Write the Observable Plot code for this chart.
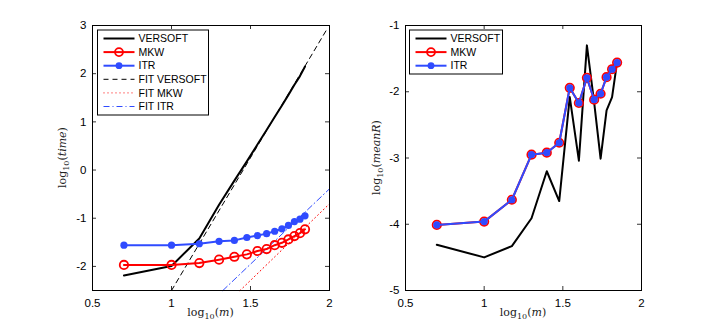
<!DOCTYPE html>
<html>
<head>
<meta charset="utf-8">
<script src="https://cdn.jsdelivr.net/npm/d3@7"></script>
<script src="https://cdn.jsdelivr.net/npm/@observablehq/plot@0.6"></script>
<style>
  html, body { margin: 0; padding: 0; background: #fff; }
  #fig { display: flex; flex-direction: row; width: 708px; height: 327px; }
  svg { display: block; }
</style>
</head>
<body>
<div id="fig"></div>
<script>
// ---- data ----
const logM = [0.699, 1.0, 1.176, 1.301, 1.398, 1.477, 1.544, 1.602, 1.653, 1.699, 1.740, 1.778, 1.813, 1.845];

const timeVersoft = [-2.19, -1.99, -1.42, -0.72, -0.22, 0.18, 0.53, 0.83, 1.10, 1.34, 1.56, 1.77, 1.95, 2.15];
const timeMKW     = [-1.97, -1.97, -1.93, -1.86, -1.80, -1.75, -1.68, -1.64, -1.56, -1.51, -1.44, -1.37, -1.31, -1.23];
const timeITR     = [-1.56, -1.56, -1.53, -1.48, -1.46, -1.40, -1.36, -1.32, -1.27, -1.22, -1.15, -1.07, -1.02, -0.95];

const fitVersoftX = [1.0, 1.985];
const fitVersoftY = [-2.5, 2.93];
const fitMKWX = [1.434, 2.0];
const fitMKWY = [-2.5, -0.70];
const fitITRX = [1.325, 2.0];
const fitITRY = [-2.5, -0.39];

const meanRVersoft = [-4.31, -4.50, -4.33, -3.91, -3.20, -3.65, -2.08, -3.04, -1.30, -2.16, -3.01, -2.28, -2.08, -1.55];
const meanRMKW     = [-4.01, -3.96, -3.63, -2.95, -2.92, -2.77, -1.94, -2.17, -1.79, -2.12, -2.03, -1.78, -1.66, -1.56];
const meanRITR     = [-4.01, -3.96, -3.63, -2.95, -2.92, -2.77, -1.94, -2.17, -1.79, -2.12, -2.03, -1.78, -1.66, -1.56];

const xTicks = [0.5, 1, 1.5, 2];
const yTicksLeft = [-2, -1, 0, 1, 2, 3];
const yTicksRight = [-5, -4, -3, -2, -1];

const legendLeft = ["VERSOFT", "MKW", "ITR", "FIT VERSOFT", "FIT MKW", "FIT ITR"];
const legendRight = ["VERSOFT", "MKW", "ITR"];

// ---- styles ----
const RED = "#ff0000";
const BLUE = "#2f4bff";
const styles = {
  "VERSOFT":     {stroke: "black", width: 2, dash: null, marker: null},
  "MKW":         {stroke: RED, width: 2, dash: null, marker: "open"},
  "ITR":         {stroke: BLUE, width: 2, dash: null, marker: "filled"},
  "FIT VERSOFT": {stroke: "black", width: 1, dash: "5,4", marker: null},
  "FIT MKW":     {stroke: RED, width: 1, dash: "1,3", marker: null},
  "FIT ITR":     {stroke: BLUE, width: 1, dash: "6,3,1,3", marker: null}
};

const zip = (xs, ys) => xs.map((x, i) => ({x, y: ys[i]}));

const H = 327, MT = 25, MB = 37;
const innerH = H - MT - MB;

function panel({width, ml, mr, yDomain, yTicks, series, fits, legend, legendBox, ylabel}) {
  const innerW = width - ml - mr;
  const marks = [];
  for (const f of fits) {
    const s = styles[f.name];
    marks.push(Plot.line(f.data, {x: "x", y: "y", stroke: s.stroke, strokeWidth: s.width, strokeDasharray: s.dash}));
  }
  for (const sr of series) {
    const s = styles[sr.name];
    marks.push(Plot.line(sr.data, {x: "x", y: "y", stroke: s.stroke, strokeWidth: s.width, strokeLinejoin: "round"}));
    if (s.marker === "open") marks.push(Plot.dot(sr.data, {x: "x", y: "y", r: 4.2, stroke: s.stroke, strokeWidth: 1.8, fill: "none"}));
    if (s.marker === "filled") marks.push(Plot.dot(sr.data, {x: "x", y: "y", r: 3.6, fill: s.stroke, stroke: "none"}));
  }
  // inward ticks (all four sides)
  marks.push(Plot.ruleX(xTicks, {x: d => d, insetTop: innerH - 4, stroke: "black", strokeWidth: 0.8}));
  marks.push(Plot.ruleX(xTicks, {x: d => d, insetBottom: innerH - 4, stroke: "black", strokeWidth: 0.8}));
  marks.push(Plot.ruleY(yTicks, {y: d => d, insetLeft: innerW - 4, stroke: "black", strokeWidth: 0.8}));
  marks.push(Plot.ruleY(yTicks, {y: d => d, insetRight: innerW - 4, stroke: "black", strokeWidth: 0.8}));
  marks.push(Plot.frame({stroke: "black", strokeWidth: 1}));
  marks.push(Plot.axisX(xTicks, {tickSize: 0, tickPadding: 8, tickFormat: d => String(d), label: null, fontSize: 11.5}));
  marks.push(Plot.axisY(yTicks, {tickSize: 0, tickPadding: 6, tickFormat: d => String(d), label: null, fontSize: 11.5}));

  const svg = Plot.plot({
    width, height: H,
    marginLeft: ml, marginRight: mr, marginTop: MT, marginBottom: MB,
    style: {fontFamily: "Liberation Sans, Arial, sans-serif", fontSize: "11.5px", color: "black", background: "white"},
    x: {domain: [0.5, 2]},
    y: {domain: yDomain},
    marks
  });

  const g = d3.select(svg);
  // x label: log10(m)
  const xl = g.append("text")
    .attr("x", ml + innerW / 2).attr("y", 316)
    .attr("text-anchor", "middle")
    .attr("font-family", "DejaVu Serif, Liberation Serif, serif")
    .attr("font-size", 11).attr("fill", "#222");
  xl.append("tspan").text("log");
  xl.append("tspan").attr("font-size", 8).attr("dy", 3).text("10");
  xl.append("tspan").attr("dy", -3).text("(");
  xl.append("tspan").attr("font-style", "italic").text("m");
  xl.append("tspan").text(")");

  // y label
  const yl = g.append("text")
    .attr("transform", `translate(${ylabel.x},${MT + innerH / 2}) rotate(-90)`)
    .attr("text-anchor", "middle")
    .attr("font-family", "DejaVu Serif, Liberation Serif, serif")
    .attr("font-size", 11).attr("fill", "#222");
  yl.append("tspan").text("log");
  yl.append("tspan").attr("font-size", 8).attr("dy", 3).text("10");
  yl.append("tspan").attr("dy", -3).text("(");
  yl.append("tspan").attr("font-style", "italic").text(ylabel.text);
  yl.append("tspan").text(")");

  // legend
  const lg = g.append("g").attr("text-anchor", "start");
  lg.append("rect")
    .attr("x", legendBox.x).attr("y", legendBox.y)
    .attr("width", legendBox.w).attr("height", legendBox.h)
    .attr("fill", "white").attr("stroke", "black").attr("stroke-width", 1);
  legend.forEach((name, i) => {
    const s = styles[name];
    const cy = legendBox.y + 8.5 + i * 13.6;
    const x0 = legendBox.x + 6, x1 = legendBox.x + 37;
    lg.append("line").attr("x1", x0).attr("x2", x1).attr("y1", cy).attr("y2", cy)
      .attr("stroke", s.stroke).attr("stroke-width", s.width)
      .attr("stroke-dasharray", s.dash);
    if (s.marker === "open") lg.append("circle").attr("cx", (x0 + x1) / 2).attr("cy", cy).attr("r", 4)
      .attr("fill", "none").attr("stroke", s.stroke).attr("stroke-width", 1.8);
    if (s.marker === "filled") lg.append("circle").attr("cx", (x0 + x1) / 2).attr("cy", cy).attr("r", 3.4)
      .attr("fill", s.stroke);
    lg.append("text").attr("x", legendBox.x + 41).attr("y", cy).attr("dy", "0.36em")
      .attr("text-anchor", "start")
      .attr("font-family", "Liberation Sans, Arial, sans-serif").attr("font-size", 10.5)
      .attr("fill", "black").text(name);
  });
  return svg;
}

const left = panel({
  width: 354, ml: 92, mr: 25,
  yDomain: [-2.5, 3], yTicks: yTicksLeft,
  series: [
    {name: "VERSOFT", data: zip(logM, timeVersoft)},
    {name: "MKW", data: zip(logM, timeMKW)},
    {name: "ITR", data: zip(logM, timeITR)}
  ],
  fits: [
    {name: "FIT VERSOFT", data: zip(fitVersoftX, fitVersoftY)},
    {name: "FIT MKW", data: zip(fitMKWX, fitMKWY)},
    {name: "FIT ITR", data: zip(fitITRX, fitITRY)}
  ],
  legend: legendLeft,
  legendBox: {x: 97.5, y: 30, w: 111, h: 85},
  ylabel: {x: 66, text: "time"}
});

const right = panel({
  width: 354, ml: 51, mr: 67,
  yDomain: [-5, -1], yTicks: yTicksRight,
  series: [
    {name: "VERSOFT", data: zip(logM, meanRVersoft)},
    {name: "MKW", data: zip(logM, meanRMKW)},
    {name: "ITR", data: zip(logM, meanRITR)}
  ],
  fits: [],
  legend: legendRight,
  legendBox: {x: 55.5, y: 30, w: 93, h: 44},
  ylabel: {x: 26, text: "meanR"}
});

document.getElementById("fig").append(left, right);
</script>
</body>
</html>
